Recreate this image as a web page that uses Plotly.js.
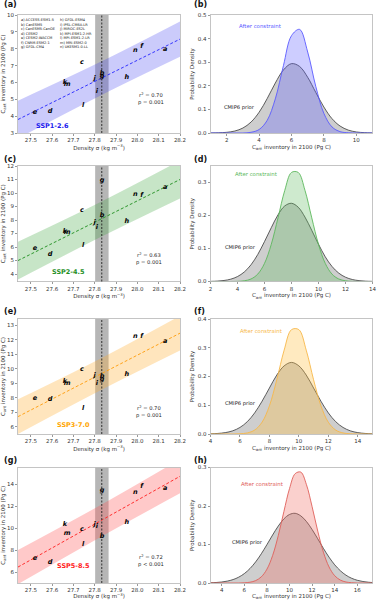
<!DOCTYPE html>
<html>
<head>
<meta charset="utf-8">
<script src="https://cdn.plot.ly/plotly-3.0.1.min.js"></script>
<style>
  html, body { margin: 0; padding: 0; background: #fff; }
  #fig { width: 379px; height: 600px; }
</style>
</head>
<body>
<div id="fig"></div>
<script>
// ---------------------------------------------------------------------------
// Data
// ---------------------------------------------------------------------------
const modelLetters = ['a', 'b', 'c', 'd', 'e', 'f', 'g', 'h', 'i', 'j', 'k', 'l', 'm', 'n'];
const modelNames = ['ACCESS-ESM1-5', 'CanESM5', 'CanESM5-CanOE', 'CESM2', 'CESM2-WACCM',
  'CNRM-ESM2-1', 'GFDL-CM4', 'GFDL-ESM4', 'IPSL-CM6A-LR', 'MIROC-ES2L',
  'MPI-ESM1-2-HR', 'MPI-ESM1-2-LR', 'MRI-ESM2-0', 'UKESM1-0-LL'];
const density = [28.13, 27.835, 27.74, 27.59, 27.52, 28.02, 27.835, 27.95, 27.81, 27.80, 27.66, 27.745, 27.67, 27.99];

const cant126 = [7.96, 6.55, 7.17, 4.3, 4.2, 8.15, 6.35, 6.3, 5.45, 6.25, 6.0, 4.65, 5.9, 7.92];
const cant245 = [10.39, 8.33, 8.7, 5.45, 5.9, 9.8, 10.93, 7.9, 7.45, 7.8, 7.17, 6.15, 7.05, 9.9];
const cant370 = [11.9, 9.45, 9.97, 7.9, 7.97, 12.22, 9.25, 9.65, 9.0, 9.55, 9.15, 7.3, 9.0, 12.28];
const cant585 = [13.64, 9.24, 9.9, 6.88, 7.27, 13.79, 13.45, 10.5, 10.15, 10.35, 10.3, 8.48, 9.48, 13.27];

const scenarios = ['SSP1-2.6', 'SSP2-4.5', 'SSP3-7.0', 'SSP5-8.5'];
const r2Text = ['0.70', '0.63', '0.70', '0.72'];
const pText = ['p = 0.001', 'p = 0.001', 'p = 0.001', 'p &lt; 0.001'];

// regression line and band, read at left edge / obs / right edge
const fitX = [27.44, 27.83, 28.2];
const fit126 = [3.8, 6.24, 8.57];
const lo126 = [2.68, 5.24, 7.52];
const hi126 = [4.92, 7.24, 9.62];
const fit245 = [5.0, 8.06, 11.0];
const lo245 = [3.6, 6.76, 9.6];
const hi245 = [6.4, 9.36, 12.4];
const fit370 = [6.7, 9.64, 12.47];
const lo370 = [5.5, 8.54, 11.27];
const hi370 = [7.9, 10.74, 13.67];
const fit585 = [6.45, 10.66, 14.7];
const lo585 = [4.9, 9.21, 13.15];
const hi585 = [8.0, 12.11, 16.25];

// observed density (dotted line) and its range (grey band)
const obsMid = 27.833;
const obsLo = 27.802;
const obsHi = 27.865;

// probability densities (prior = CMIP6, post = after constraint)
const pdfX1 = [1, 1.5, 2, 2.5, 3, 3.5, 4, 4.5, 5, 5.5, 6, 6.5, 7, 7.5, 8, 8.5, 9, 9.5, 10, 10.5, 11];
const prior1 = [0.0002, 0.0009, 0.0029, 0.0084, 0.0211, 0.0462, 0.0879, 0.146, 0.2117, 0.267, 0.294,
  0.282, 0.236, 0.172, 0.110, 0.0607, 0.0294, 0.0124, 0.0045, 0.0015, 0.0004];
const post1 = [0, 0, 0, 0, 0, 0.003, 0.0147, 0.0537, 0.1445, 0.285, 0.4126, 0.439, 0.343, 0.197,
  0.0829, 0.0256, 0.0058, 0.001, 0, 0, 0];

const pdfX2 = [2, 2.5, 3, 3.5, 4, 4.5, 5, 5.5, 6, 6.5, 7, 7.5, 8, 8.5, 9, 9.5, 10, 10.5, 11, 11.5, 12, 12.5, 13, 13.5, 14];
const prior2 = [0.0004, 0.0012, 0.0031, 0.0071, 0.0150, 0.0288, 0.0507, 0.0819, 0.121, 0.163, 0.202,
  0.229, 0.237, 0.225, 0.195, 0.155, 0.113, 0.0749, 0.0456, 0.0254, 0.013, 0.0061, 0.0026, 0.001, 0.0004];
const post2 = [0, 0, 0, 0, 0.0005, 0.0022, 0.0076, 0.0224, 0.0549, 0.1125, 0.193, 0.276, 0.3305,
  0.3305, 0.276, 0.193, 0.1125, 0.0549, 0.0224, 0.0076, 0.0022, 0.0005, 0, 0, 0];

const pdfX3 = [4, 4.5, 5, 5.5, 6, 6.5, 7, 7.5, 8, 8.5, 9, 9.5, 10, 10.5, 11, 11.5, 12, 12.5, 13, 13.5, 14, 14.5, 15];
const prior3 = [0.0007, 0.0019, 0.0048, 0.0109, 0.0228, 0.0429, 0.0735, 0.114, 0.160, 0.205, 0.237,
  0.249, 0.237, 0.205, 0.160, 0.114, 0.0735, 0.0429, 0.0228, 0.0109, 0.0048, 0.0019, 0.0007];
const post3 = [0, 0, 0, 0, 0.0008, 0.0037, 0.0137, 0.0409, 0.0979, 0.1886, 0.2917, 0.363, 0.363,
  0.2917, 0.1886, 0.0979, 0.0409, 0.0137, 0.0037, 0.0008, 0, 0, 0];

const pdfX4 = [3, 3.5, 4, 4.5, 5, 5.5, 6, 6.5, 7, 7.5, 8, 8.5, 9, 9.5, 10, 10.5, 11, 11.5, 12, 12.5,
  13, 13.5, 14, 14.5, 15, 15.5, 16, 16.5, 17, 17.5];
const prior4 = [0.0006, 0.0013, 0.0026, 0.005, 0.0089, 0.0152, 0.0245, 0.0376, 0.0549, 0.0759, 0.0998,
  0.1246, 0.1478, 0.1665, 0.178, 0.181, 0.1744, 0.1597, 0.1389, 0.1148, 0.090, 0.0671, 0.0474, 0.0319,
  0.0203, 0.0123, 0.0071, 0.0039, 0.002, 0.001];
const post4 = [0, 0, 0, 0, 0, 0, 0.0006, 0.0021, 0.0062, 0.016, 0.036, 0.0711, 0.1228, 0.1855, 0.2453,
  0.284, 0.288, 0.2554, 0.1983, 0.1347, 0.0801, 0.0417, 0.019, 0.0076, 0.0026, 0.0008, 0, 0, 0, 0];

// ---------------------------------------------------------------------------
// Styling / layout helpers
// ---------------------------------------------------------------------------
const FONT = 'DejaVu Sans, Liberation Sans, sans-serif';
const lineColors = ['#3535ff', '#2e962e', '#ffa31a', '#ff3030'];
const bandColors = ['rgba(70,70,240,0.28)', 'rgba(70,170,70,0.3)', 'rgba(255,175,50,0.32)', 'rgba(255,90,90,0.33)'];
const labelColors = ['#2020ee', '#1f8f1f', '#ffa500', '#ff1a1a'];
const pdfLine = ['#5a5aff', '#5cb85c', '#f7b84a', '#e0605a'];
const pdfFill = ['rgba(90,90,255,0.3)', 'rgba(92,184,92,0.3)', 'rgba(255,190,60,0.32)', 'rgba(240,110,100,0.32)'];
const priorFill = 'rgba(120,120,120,0.36)';

const cantSets = [cant126, cant245, cant370, cant585];
const fitSets = [fit126, fit245, fit370, fit585];
const loSets = [lo126, lo245, lo370, lo585];
const hiSets = [hi126, hi245, hi370, hi585];
const pdfXs = [pdfX1, pdfX2, pdfX3, pdfX4];
const priors = [prior1, prior2, prior3, prior4];
const posts = [post1, post2, post3, post4];

const W = 379, H = 600;
const colL = [18 / W, 180 / W];
const colR = [210.5 / W, 372.5 / W];
const rowPx = [[15, 133], [166, 281.5], [319, 434], [467.5, 583]];
const rows = rowPx.map(([t, b]) => [1 - b / H, 1 - t / H]);
const panelLabelY = [5, 160, 311.5, 460];

const yRangeL = [[3, 10], [3.45, 12], [5.5, 13.45], [5, 15.5]];
const yDtickL = [1, 1, 1, 2];
const xRangeR = [[1, 11], [2, 14], [4, 15], [3, 17.35]];
const yRangeR = [[0, 0.5], [0, 0.35], [0, 0.4], [0, 0.3]];

const statPos = [[0.82, 0.285], [0.81, 0.195], [0.81, 0.195], [0.82, 0.19]];
const sspPos = [[0.21, 0.057], [0.313, 0.078], [0.34, 0.078], [0.34, 0.144]];
const afterPos = [[4.07, 0.453], [5.4, 0.325], [7.4, 0.357], [7.56, 0.2565]];
const priorPos = [[2.78, 0.108], [4.24, 0.102], [6.05, 0.107], [6.32, 0.104]];

const CANT_TITLE = 'C<sub>ant</sub> inventory in 2100 (Pg C)';

function axis(extra) {
  return {
    showgrid: false, zeroline: false, showline: true, mirror: true,
    linecolor: '#b5b5b5', linewidth: 0.8,
    ticks: 'outside', ticklen: 2, tickwidth: 0.6, tickcolor: '#555',
    tickfont: { family: FONT, size: 5.5, color: '#333' },
    ...extra,
  };
}

const traces = [];
const shapes = [];
const annotations = [];
const layout = {
  width: W, height: H,
  margin: { l: 0, r: 0, t: 0, b: 0 },
  paper_bgcolor: '#fff', plot_bgcolor: '#fff',
  showlegend: false,
  font: { family: FONT, color: '#333' },
};

for (let s = 0; s < 4; s++) {
  const xl = 2 * s + 1;      // scatter panel axis index
  const xr = 2 * s + 2;      // pdf panel axis index
  const xL = xl === 1 ? 'x' : 'x' + xl;
  const yL = xl === 1 ? 'y' : 'y' + xl;
  const xR = 'x' + xr;
  const yR = 'y' + xr;
  const keyXL = xl === 1 ? 'xaxis' : 'xaxis' + xl;
  const keyYL = xl === 1 ? 'yaxis' : 'yaxis' + xl;

  // --- scatter panel: band, fit line, model letters
  traces.push({
    x: fitX, y: loSets[s], xaxis: xL, yaxis: yL, type: 'scatter', mode: 'lines',
    line: { width: 0, shape: 'spline' }, hoverinfo: 'skip',
  });
  traces.push({
    x: fitX, y: hiSets[s], xaxis: xL, yaxis: yL, type: 'scatter', mode: 'lines',
    line: { width: 0, shape: 'spline' }, fill: 'tonexty', fillcolor: bandColors[s], hoverinfo: 'skip',
  });
  traces.push({
    x: [fitX[0], fitX[2]], y: [fitSets[s][0], fitSets[s][2]], xaxis: xL, yaxis: yL,
    type: 'scatter', mode: 'lines', line: { color: lineColors[s], width: 1, dash: '3px,2px' },
  });
  traces.push({
    x: density, y: cantSets[s], xaxis: xL, yaxis: yL, type: 'scatter', mode: 'text',
    text: modelLetters, textposition: 'middle center',
    textfont: { family: FONT, size: 6.5, color: '#000', style: 'italic', weight: 'bold' },
  });

  layout[keyXL] = axis({
    domain: colL, anchor: yL, range: [27.44, 28.2], tick0: 27.5, dtick: 0.1, tickformat: '.1f',
    title: { text: 'Density σ (kg m<sup>−3</sup>)', font: { family: FONT, size: 5.5, color: '#333' }, standoff: 2 },
  });
  layout[keyYL] = axis({
    domain: rows[s], anchor: xL, range: yRangeL[s], dtick: yDtickL[s],
    title: { text: CANT_TITLE, font: { family: FONT, size: 5.5, color: '#333' }, standoff: 2 },
  });

  shapes.push({
    type: 'rect', xref: xL, yref: yL + ' domain', x0: obsLo, x1: obsHi, y0: 0, y1: 1,
    fillcolor: 'rgba(80,80,80,0.42)', line: { width: 0 }, layer: 'below',
  });
  shapes.push({
    type: 'line', xref: xL, yref: yL + ' domain', x0: obsMid, x1: obsMid, y0: 0, y1: 1,
    line: { color: '#222', width: 0.9, dash: '2px,1.5px' },
  });

  annotations.push({
    xref: xL + ' domain', yref: yL + ' domain', x: statPos[s][0], y: statPos[s][1],
    xanchor: 'center', yanchor: 'middle', align: 'center', showarrow: false,
    text: 'r<sup>2</sup> = ' + r2Text[s] + '<br>' + pText[s],
    font: { family: FONT, size: 5.2, color: '#222' },
  });
  annotations.push({
    xref: xL + ' domain', yref: yL + ' domain', x: sspPos[s][0], y: sspPos[s][1],
    xanchor: 'center', yanchor: 'middle', showarrow: false,
    text: '<b>' + scenarios[s] + '</b>',
    font: { family: FONT, size: 6.5, color: labelColors[s] },
  });

  // --- pdf panel
  traces.push({
    x: pdfXs[s], y: priors[s], xaxis: xR, yaxis: yR, type: 'scatter', mode: 'lines',
    line: { color: '#3a3a3a', width: 0.8, shape: 'spline' }, fill: 'tozeroy', fillcolor: priorFill,
  });
  traces.push({
    x: pdfXs[s], y: posts[s], xaxis: xR, yaxis: yR, type: 'scatter', mode: 'lines',
    line: { color: pdfLine[s], width: 0.9, shape: 'spline' }, fill: 'tozeroy', fillcolor: pdfFill[s],
  });

  layout['xaxis' + xr] = axis({
    domain: colR, anchor: yR, range: xRangeR[s], tick0: 0, dtick: 2,
    title: { text: CANT_TITLE, font: { family: FONT, size: 5.5, color: '#333' }, standoff: 2 },
  });
  layout['yaxis' + xr] = axis({
    domain: rows[s], anchor: xR, range: yRangeR[s], dtick: 0.1, tickformat: '.1f',
    title: { text: 'Probability Density', font: { family: FONT, size: 5.5, color: '#333' }, standoff: 2 },
  });

  annotations.push({
    xref: xR, yref: yR, x: afterPos[s][0], y: afterPos[s][1], showarrow: false,
    text: 'After constraint', font: { family: FONT, size: 5.4, color: pdfLine[s] },
  });
  annotations.push({
    xref: xR, yref: yR, x: priorPos[s][0], y: priorPos[s][1], showarrow: false,
    text: 'CMIP6 prior', font: { family: FONT, size: 5.2, color: '#222' },
  });

  // panel letters
  const letters = ['(a)', '(b)', '(c)', '(d)', '(e)', '(f)', '(g)', '(h)'];
  annotations.push({
    xref: 'paper', yref: 'paper', x: 2 / W, y: 1 - panelLabelY[s] / H, xanchor: 'left', yanchor: 'middle',
    showarrow: false, text: '<b>' + letters[2 * s] + '</b>', font: { family: FONT, size: 8, color: '#111' },
  });
  annotations.push({
    xref: 'paper', yref: 'paper', x: 192 / W, y: 1 - panelLabelY[s] / H, xanchor: 'left', yanchor: 'middle',
    showarrow: false, text: '<b>' + letters[2 * s + 1] + '</b>', font: { family: FONT, size: 8, color: '#111' },
  });
}

// model key in panel (a)
const keyLines = modelLetters.map((l, i) => l + ') ' + modelNames[i]);
annotations.push({
  xref: 'x domain', yref: 'y domain', x: 0.006, y: 0.995, xanchor: 'left', yanchor: 'top', align: 'left',
  showarrow: false, text: keyLines.slice(0, 7).join('<br>'),
  font: { family: FONT, size: 3.5, color: '#111' },
});
annotations.push({
  xref: 'x domain', yref: 'y domain', x: 0.24, y: 0.995, xanchor: 'left', yanchor: 'top', align: 'left',
  showarrow: false, text: keyLines.slice(7).join('<br>'),
  font: { family: FONT, size: 3.5, color: '#111' },
});

layout.shapes = shapes;
layout.annotations = annotations;

Plotly.newPlot('fig', traces, layout, { staticPlot: true, displayModeBar: false });
</script>
</body>
</html>
